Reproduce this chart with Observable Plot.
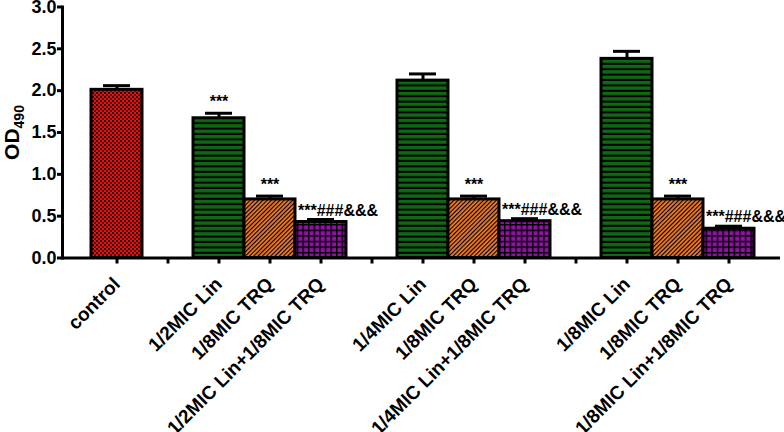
<!DOCTYPE html>
<html><head><meta charset="utf-8">
<script src="https://cdn.jsdelivr.net/npm/d3@7"></script>
<script src="https://cdn.jsdelivr.net/npm/@observablehq/plot@0.6"></script>
<style>
body{margin:0;background:#fff;}
#chart svg{display:block;}
</style>
</head><body><div id="chart"></div>
<script>
// ---- data ----
const labels = ["control", "", "1/2MIC Lin", "1/8MIC TRQ", "1/2MIC Lin+1/8MIC TRQ", "",
  "1/4MIC Lin", "1/8MIC TRQ", "1/4MIC Lin+1/8MIC TRQ", "",
  "1/8MIC Lin", "1/8MIC TRQ", "1/8MIC Lin+1/8MIC TRQ"];
const means  = [2.01, null, 1.67, 0.70, 0.43, null, 2.12, 0.70, 0.44, null, 2.38, 0.70, 0.35];
const errors = [0.05, null, 0.06, 0.04, 0.03, null, 0.08, 0.04, 0.03, null, 0.09, 0.04, 0.03];
const groups = ["control", null, "Lin", "TRQ", "combo", null, "Lin", "TRQ", "combo", null, "Lin", "TRQ", "combo"];
const signif = ["", "", "***", "***", "***###&&&", "", "", "***", "***###&&&", "", "", "***", "***###&&&"];
const yTicks = [0, 0.5, 1.0, 1.5, 2.0, 2.5, 3.0];
const groupNames = ["control", "Lin", "TRQ", "combo"];
const patterns = ["url(#pat-control)", "url(#pat-lin)", "url(#pat-trq)", "url(#pat-combo)"];

const slotKeys = labels.map((l, i) => "s" + i);
const rows = slotKeys.map((k, i) => ({key: k, mean: means[i], err: errors[i], group: groups[i], sig: signif[i]}))
  .filter(d => d.mean != null);

const font = '"Liberation Sans", Arial, Helvetica, sans-serif';

const plot = Plot.plot({
  width: 784, height: 432,
  marginTop: 6.5, marginBottom: 174.5, marginLeft: 62, marginRight: 4,
  style: {fontFamily: font, fontWeight: "bold", fontSize: "18px", background: "white", color: "black", overflow: "visible"},
  x: {domain: slotKeys, range: [91, 754], padding: 0},
  y: {domain: [0, 3]},
  color: {domain: groupNames, range: patterns},
  marks: [
    Plot.barY(rows, {x: "key", y: "mean", fill: "group", stroke: "black", strokeWidth: 3}),
    Plot.ruleX(rows, {x: "key", y1: "mean", y2: d => d.mean + d.err, strokeWidth: 3}),
    Plot.tickY(rows, {x: "key", y: d => d.mean + d.err, strokeWidth: 3, insetLeft: 12, insetRight: 12}),
    Plot.text(rows.filter(d => d.sig === "***"), {x: "key", y: d => d.mean + d.err, text: "sig", dy: -6, lineAnchor: "bottom", fontSize: 16, fontWeight: "bold"}),
    Plot.text(rows.filter(d => d.sig.length > 3), {x: "key", y: d => d.mean + d.err, text: "sig", textAnchor: "start", dx: -23, dy: -4, lineAnchor: "bottom", fontSize: 16, fontWeight: "bold"}),
    Plot.axisY({ticks: yTicks, tickFormat: d3.format(".1f"), tickSize: 5, tickPadding: 1, strokeWidth: 3, fontSize: 18, label: "OD490", labelAnchor: "center", labelOffset: 58}),
    Plot.axisX({tickFormat: k => labels[slotKeys.indexOf(k)], tickRotate: -45, tickSize: 6, tickPadding: 17, strokeWidth: 3, fontSize: 19, label: null}),
    Plot.ruleY([0], {strokeWidth: 3}),
    Plot.frame({anchor: "left", strokeWidth: 3})
  ]
});

const svg = d3.select(plot);
svg.insert("defs", ":first-child").html(`
  <pattern id="pat-control" patternUnits="userSpaceOnUse" width="4" height="4">
    <rect width="4" height="4" fill="#dc1414"/>
    <rect width="2" height="2" fill="#2a0000"/>
    <rect x="2" y="2" width="2" height="2" fill="#700000"/>
  </pattern>
  <pattern id="pat-lin" patternUnits="userSpaceOnUse" width="6" height="5.4">
    <rect width="6" height="5.4" fill="#0f6812"/>
    <rect y="3.4" width="6" height="2" fill="#000"/>
  </pattern>
  <pattern id="pat-trq" patternUnits="userSpaceOnUse" width="3" height="3" patternTransform="rotate(45)">
    <rect width="3" height="3" fill="#f27a22"/>
    <rect width="1.1" height="3" fill="#000"/>
  </pattern>
  <pattern id="pat-combo" patternUnits="userSpaceOnUse" width="5.6" height="5.6">
    <rect width="5.6" height="5.6" fill="#8f12a2"/>
    <rect width="5.6" height="1.4" fill="#000"/>
    <rect width="1.4" height="5.6" fill="#000"/>
  </pattern>`);

// subscript for the y-axis label
const lab = svg.select('g[aria-label="y-axis label"] text');
if (!lab.empty()) {
  lab.text("OD").attr("font-size", 21);
  lab.append("tspan").attr("font-size", 14).attr("dy", 5).text("490");
}
document.getElementById("chart").appendChild(plot);
</script>
</body></html>
